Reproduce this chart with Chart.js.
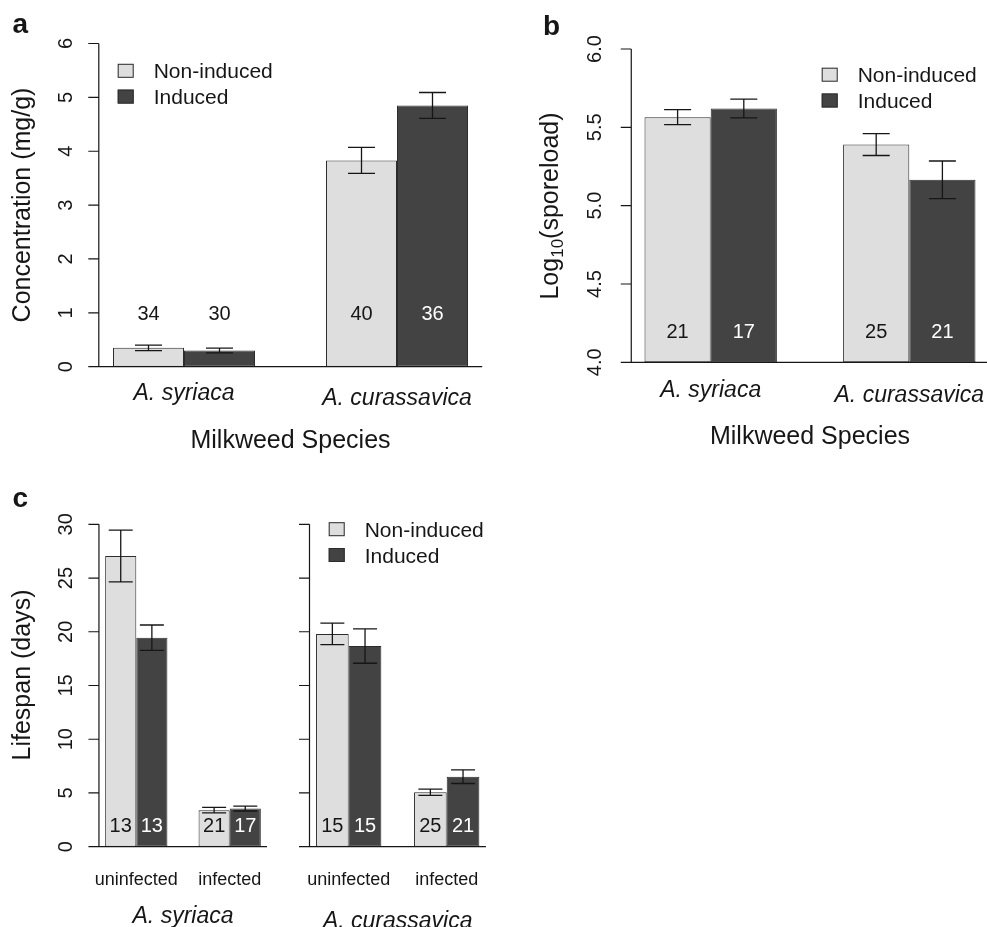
<!DOCTYPE html>
<html>
<head>
<meta charset="utf-8">
<script src="https://cdn.jsdelivr.net/npm/chart.js@4.4.1/dist/chart.umd.min.js"></script>
<style>
  html, body { margin: 0; padding: 0; background: #fff; overflow: hidden; }
  #fig { position: relative; width: 987px; height: 927px; overflow: hidden; }
  #fig canvas { position: absolute; left: 0; top: 0; }
</style>
</head>
<body>
<div id="fig">
  <canvas id="panel-a" width="1040" height="927"></canvas>
  <canvas id="panel-b" width="1040" height="927"></canvas>
  <canvas id="panel-c1" width="1040" height="927"></canvas>
  <canvas id="panel-c2" width="1040" height="927"></canvas>
</div>
<script>
// ---- data ----
const treatments = ['Non-induced', 'Induced'];
const species = ['A. syriaca', 'A. curassavica'];
const infection = ['uninfected', 'infected'];

// a: cardenolide concentration (mg/g)
const concNonInduced = [0.35, 3.83];
const concInduced = [0.30, 4.85];
const concNonInducedSE = [0.05, 0.24];
const concInducedSE = [0.045, 0.24];
const concNonInducedN = [34, 40];
const concInducedN = [30, 36];
const concTicks = [0, 1, 2, 3, 4, 5, 6];

// b: log10 spore load
const sporeNonInduced = [5.565, 5.39];
const sporeInduced = [5.62, 5.165];
const sporeNonInducedSE = [0.048, 0.07];
const sporeInducedSE = [0.06, 0.12];
const sporeNonInducedN = [21, 25];
const sporeInducedN = [17, 21];
const sporeTicks = [4.0, 4.5, 5.0, 5.5, 6.0];

// c: lifespan (days), by infection status
const lifeSyrNonInduced = [27.05, 3.4];
const lifeSyrInduced = [19.45, 3.55];
const lifeSyrNonInducedSE = [2.4, 0.25];
const lifeSyrInducedSE = [1.18, 0.23];
const lifeSyrNonInducedN = [13, 21];
const lifeSyrInducedN = [13, 17];
const lifeCurNonInduced = [19.8, 5.07];
const lifeCurInduced = [18.67, 6.51];
const lifeCurNonInducedSE = [1.0, 0.29];
const lifeCurInducedSE = [1.6, 0.63];
const lifeCurNonInducedN = [15, 25];
const lifeCurInducedN = [15, 21];
const lifeTicks = [0, 5, 10, 15, 20, 25, 30];

// ---- style ----
const FONT = '"Liberation Sans", Arial, Helvetica, sans-serif';
const ink = '#161616';
const edge = '#2c2c2c';
const lightFill = '#dedede';
const darkFill = '#434343';

// rotated (bottom-to-top) text, centred on (x, y), baseline on x
function vText(ctx, parts, x, y) {
    ctx.save();
    ctx.translate(x, y);
    ctx.rotate(-Math.PI / 2);
    ctx.textAlign = 'left';
    ctx.textBaseline = 'alphabetic';
    let total = 0;
    parts.forEach(p => { ctx.font = p.font; p.w = ctx.measureText(p.text).width; total += p.w; });
    let cx = -total / 2;
    parts.forEach(p => { ctx.font = p.font; ctx.fillText(p.text, cx, p.dy || 0); cx += p.w; });
    ctx.restore();
}

// R-style axes, error bars, n labels, legend and titles
function panelDecor(cfg) {
    return {
        id: 'panelDecor',
        afterDatasetsDraw(chart) {
            const { ctx, scales: { y } } = chart;
            ctx.save();
            ctx.strokeStyle = ink;
            ctx.lineWidth = 1.3;
            chart.data.datasets.forEach((ds, i) => {
                chart.getDatasetMeta(i).data.forEach((bar, j) => {
                    const hi = y.getPixelForValue(ds.data[j] + ds.se[j]);
                    const lo = y.getPixelForValue(ds.data[j] - ds.se[j]);
                    ctx.beginPath();
                    ctx.moveTo(bar.x, hi); ctx.lineTo(bar.x, lo);
                    ctx.moveTo(bar.x - cfg.capHalf, hi); ctx.lineTo(bar.x + cfg.capHalf, hi);
                    ctx.moveTo(bar.x - cfg.capHalf, lo); ctx.lineTo(bar.x + cfg.capHalf, lo);
                    ctx.stroke();
                });
            });

            // sample sizes
            const cy = y.getPixelForValue(cfg.countAt);
            ctx.font = `20px ${FONT}`;
            ctx.textAlign = 'center';
            ctx.textBaseline = 'alphabetic';
            chart.data.datasets.forEach((ds, i) => {
                chart.getDatasetMeta(i).data.forEach((bar, j) => {
                    const inside = bar.y < cy - 10;
                    ctx.fillStyle = (i === 1 && inside) ? '#ffffff' : ink;
                    ctx.fillText(String(ds.n[j]), bar.x, cy + 7.2);
                });
            });
            ctx.restore();
        },
        afterDraw(chart) {
            const { ctx, scales: { x, y } } = chart;
            const c0 = x.getPixelForValue(0);
            const c1 = x.getPixelForValue(1);
            const unit = (c1 - c0) / 3;
            const left = c0 - 1.2 * unit;
            const right = c1 + 1.2 * unit;
            const yTop = y.getPixelForValue(y.max);
            const yBot = y.getPixelForValue(y.min);

            ctx.save();
            ctx.strokeStyle = ink;
            ctx.lineWidth = 1.2;
            ctx.beginPath();
            ctx.moveTo(left, yTop);
            ctx.lineTo(left, yBot);
            ctx.lineTo(right, yBot);
            cfg.ticks.forEach(v => {
                const py = y.getPixelForValue(v);
                ctx.moveTo(left - 10.5, py);
                ctx.lineTo(left, py);
            });
            ctx.stroke();

            ctx.fillStyle = ink;
            if (cfg.tickLabels) {
                cfg.ticks.forEach(v => {
                    vText(ctx, [{ text: v.toFixed(cfg.decimals), font: `20px ${FONT}` }],
                        left - cfg.tickGap, y.getPixelForValue(v));
                });
            }

            // legend
            if (cfg.legend) {
                const lg = cfg.legend;
                chart.data.datasets.forEach((ds, i) => {
                    const ry = lg.y + i * 25.8;
                    ctx.fillStyle = ds.backgroundColor;
                    ctx.fillRect(lg.x, ry - 7, 16, 14);
                    ctx.lineWidth = 1;
                    ctx.strokeStyle = edge;
                    ctx.strokeRect(lg.x + 0.5, ry - 6.5, 15, 13);
                    ctx.fillStyle = ink;
                    ctx.font = `21px ${FONT}`;
                    ctx.textAlign = 'left';
                    ctx.textBaseline = 'alphabetic';
                    ctx.fillText(ds.label, lg.x + 36, ry + 7.6);
                });
            }

            // category labels under the groups
            ctx.fillStyle = ink;
            ctx.textAlign = 'center';
            ctx.textBaseline = 'alphabetic';
            ctx.font = cfg.groupFont;
            chart.data.labels.forEach((lab, i) => {
                ctx.fillText(lab, x.getPixelForValue(i), cfg.groupBase[i]);
            });

            const mid = (left + right) / 2;
            if (cfg.xTitle) {
                ctx.font = cfg.xTitle.font;
                ctx.fillText(cfg.xTitle.text, mid, cfg.xTitle.y);
            }
            if (cfg.yTitle) {
                vText(ctx, cfg.yTitle.parts, cfg.yTitle.x, cfg.yTitle.y);
            }
            if (cfg.letter) {
                ctx.font = `bold 28px ${FONT}`;
                ctx.textAlign = 'left';
                ctx.fillText(cfg.letter.text, cfg.letter.x, cfg.letter.y);
            }
            ctx.restore();
        }
    };
}

function makePanel(id, labels, nonInduced, induced, se0, se1, n0, n1, yMin, yMax, padding, cfg) {
    const common = {
        borderColor: edge,
        borderWidth: 1,
        borderSkipped: false,
        base: yMin,
        categoryPercentage: 2 / 3,
        barPercentage: 1,
    };
    return new Chart(document.getElementById(id), {
        type: 'bar',
        data: {
            labels: labels,
            datasets: [
                { ...common, label: treatments[0], data: nonInduced, se: se0, n: n0, backgroundColor: lightFill },
                { ...common, label: treatments[1], data: induced, se: se1, n: n1, backgroundColor: darkFill },
            ]
        },
        options: {
            responsive: false,
            animation: false,
            events: [],
            layout: { padding: padding },
            scales: {
                x: { display: false },
                y: { display: false, min: yMin, max: yMax }
            },
            plugins: { legend: { display: false }, tooltip: { enabled: false } },
        },
        plugins: [panelDecor(cfg)],
    });
}

// a
makePanel('panel-a', species, concNonInduced, concInduced, concNonInducedSE, concInducedSE,
    concNonInducedN, concInducedN, 0, 6,
    { left: 77.5, right: 536.5, top: 43.5, bottom: 560.3 },
    {
        ticks: concTicks, tickLabels: true, decimals: 0, tickGap: 27, capHalf: 13.5, countAt: 1,
        legend: { x: 117.7, y: 70.8 },
        groupFont: `italic 23px ${FONT}`, groupBase: [400, 405],
        xTitle: { text: 'Milkweed Species', font: `25px ${FONT}`, y: 448.3 },
        yTitle: { parts: [{ text: 'Concentration (mg/g)', font: `25px ${FONT}` }], x: 30, y: 205 },
        letter: { text: 'a', x: 12.5, y: 33.3 },
    });

// b
makePanel('panel-b', species, sporeNonInduced, sporeInduced, sporeNonInducedSE, sporeInducedSE,
    sporeNonInducedN, sporeInducedN, 4, 6,
    { left: 611.4, right: 31.4, top: 49, bottom: 564.7 },
    {
        ticks: sporeTicks, tickLabels: true, decimals: 1, tickGap: 30, capHalf: 13.5, countAt: 4.2,
        legend: { x: 821.7, y: 74.7 },
        groupFont: `italic 23px ${FONT}`, groupBase: [396.7, 401.7],
        xTitle: { text: 'Milkweed Species', font: `25px ${FONT}`, y: 444.3 },
        yTitle: {
            parts: [
                { text: 'Log', font: `25px ${FONT}` },
                { text: '10', font: `17px ${FONT}`, dy: 5 },
                { text: '(sporeload)', font: `25px ${FONT}` },
            ], x: 558, y: 206
        },
        letter: { text: 'b', x: 543, y: 35 },
    });

// c, A. syriaca
makePanel('panel-c1', infection, lifeSyrNonInduced, lifeSyrInduced, lifeSyrNonInducedSE, lifeSyrInducedSE,
    lifeSyrNonInducedN, lifeSyrInducedN, 0, 30,
    { left: 89.6, right: 763.6, top: 524.3, bottom: 80.3 },
    {
        ticks: lifeTicks, tickLabels: true, decimals: 0, tickGap: 27, capHalf: 12, countAt: 2,
        groupFont: `18px ${FONT}`, groupBase: [885, 885],
        xTitle: { text: species[0], font: `italic 23px ${FONT}`, y: 923 },
        yTitle: { parts: [{ text: 'Lifespan (days)', font: `25px ${FONT}` }], x: 30, y: 675 },
        letter: { text: 'c', x: 12.5, y: 506.7 },
    });

// c, A. curassavica
makePanel('panel-c2', infection, lifeCurNonInduced, lifeCurInduced, lifeCurNonInducedSE, lifeCurInducedSE,
    lifeCurNonInducedN, lifeCurInducedN, 0, 30,
    { left: 299.7, right: 544.3, top: 524.3, bottom: 80.3 },
    {
        ticks: lifeTicks, tickLabels: false, decimals: 0, tickGap: 27, capHalf: 12, countAt: 2,
        legend: { x: 328.7, y: 529.2 },
        groupFont: `18px ${FONT}`, groupBase: [885, 885],
        xTitle: { text: species[1], font: `italic 23px ${FONT}`, y: 928 },
    });
</script>
</body>
</html>
